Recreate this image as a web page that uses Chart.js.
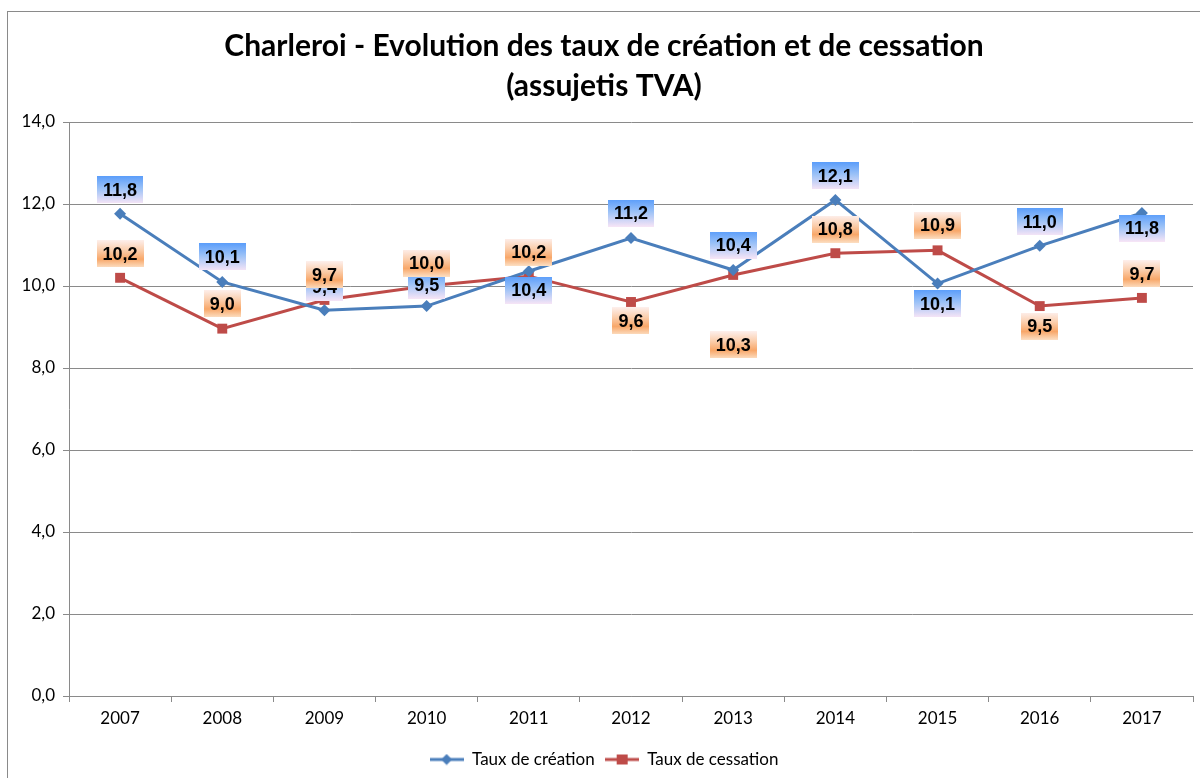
<!DOCTYPE html>
<html>
<head>
<meta charset="utf-8">
<script src="https://cdn.jsdelivr.net/npm/chart.js@4.4.1/dist/chart.umd.min.js"></script>
<style>
  html, body { margin: 0; padding: 0; background: #fff; }
  #wrap { width: 1200px; height: 778px; }
</style>
</head>
<body>
<div id="wrap"><canvas id="chart" width="1200" height="778"></canvas></div>
<script>
// Charleroi - taux de création / cessation (assujettis TVA)

const years = ["2007", "2008", "2009", "2010", "2011", "2012", "2013", "2014", "2015", "2016", "2017"];
const creation = [11.76, 10.1, 9.41, 9.51, 10.36, 11.17, 10.39, 12.1, 10.06, 10.98, 11.78];
const cessation = [10.2, 8.96, 9.66, 10.0, 10.24, 9.61, 10.27, 10.8, 10.87, 9.51, 9.71];
const yTicks = [0, 2, 4, 6, 8, 10, 12, 14];

// label placement (px offset from point, negative = above)
const creationLabelDy = [-24, -25, -23, -21, 19, -25, -25, -24, 20, -24, 15];
const cessationLabelDy = [-24, -25, -25, -23, -24, 19, 70, -24, -25, 20, -24];

const BLUE = "#4A7EBB";
const RED = "#BE4B48";

function fmt(v) {
  return v.toFixed(1).replace(".", ",");
}

// legend icon: line with marker
function legendIcon(color, shape) {
  const c = document.createElement("canvas");
  c.width = 34; c.height = 12;
  const g = c.getContext("2d");
  g.strokeStyle = color;
  g.lineWidth = 3;
  g.beginPath(); g.moveTo(0, 6); g.lineTo(34, 6); g.stroke();
  g.fillStyle = color;
  if (shape === "diamond") {
    g.beginPath(); g.moveTo(17, 0.5); g.lineTo(22.5, 6); g.lineTo(17, 11.5); g.lineTo(11.5, 6); g.closePath(); g.fill();
  } else {
    g.fillRect(12, 1, 11, 10);
  }
  return c;
}

const frame = {
  id: "frame",
  beforeDraw(chart) {
    const ctx = chart.ctx;
    ctx.save();
    ctx.fillStyle = "#fff";
    ctx.fillRect(0, 0, chart.width, chart.height);
    ctx.strokeStyle = "#8a8a8a";
    ctx.lineWidth = 1;
    ctx.strokeRect(7.5, 11.5, 1220, 800);
    ctx.restore();
  }
};

const dataLabels = {
  id: "dataLabels",
  afterDatasetsDraw(chart) {
    const ctx = chart.ctx;
    const offsets = [creationLabelDy, cessationLabelDy];
    ctx.save();
    ctx.font = "bold 18px 'Liberation Sans', Arial, sans-serif";
    ctx.textAlign = "center";
    ctx.textBaseline = "middle";
    chart.data.datasets.forEach((ds, di) => {
      const meta = chart.getDatasetMeta(di);
      meta.data.forEach((pt, i) => {
        const txt = fmt(ds.data[i]);
        const w = ctx.measureText(txt).width + 12;
        const h = 27;
        const cx = pt.x;
        const cy = pt.y + offsets[di][i];
        const top = cy - h / 2;
        const grad = ctx.createLinearGradient(0, top, 0, top + h);
        if (di === 0) {
          grad.addColorStop(0, "#5C9EFA");
          grad.addColorStop(0.45, "#9CC2F7");
          grad.addColorStop(1, "#F5E4F6");
        } else {
          grad.addColorStop(0, "#FDEEEA");
          grad.addColorStop(0.35, "#FBCFAE");
          grad.addColorStop(0.7, "#F8A769");
          grad.addColorStop(1, "#FCDDC0");
        }
        ctx.fillStyle = grad;
        ctx.fillRect(Math.round(cx - w / 2), Math.round(top), Math.round(w), h);
        ctx.fillStyle = "#000";
        ctx.fillText(txt, cx, cy + 1);
      });
    });
    ctx.restore();
  }
};

new Chart(document.getElementById("chart"), {
  type: "line",
  data: {
    labels: years,
    datasets: [
      {
        label: "Taux de création",
        data: creation,
        borderColor: BLUE,
        backgroundColor: BLUE,
        borderWidth: 3,
        pointStyle: "rectRot",
        pointRadius: 6,
        pointBorderWidth: 0,
        tension: 0,
      },
      {
        label: "Taux de cessation",
        data: cessation,
        borderColor: RED,
        backgroundColor: RED,
        borderWidth: 3,
        pointStyle: "rect",
        pointRadius: 7,
        pointBorderWidth: 0,
        tension: 0,
      },
    ],
  },
  options: {
    responsive: false,
    animation: false,
    layout: { padding: { left: 14, right: 6, top: 26, bottom: 0 } },
    plugins: {
      title: {
        display: true,
        text: ["Charleroi - Evolution des taux de création et de cessation", "(assujetis TVA)"],
        color: "#000",
        font: { family: "Lato", size: 30, weight: "bold", lineHeight: 1.35 },
        padding: { top: 0, bottom: 15 },
      },
      legend: {
        position: "bottom",
        labels: {
          usePointStyle: true,
          pointStyleWidth: 34,
          color: "#000",
          font: { family: "Lato", size: 17 },
          padding: 10,
          generateLabels: (chart) => [
            { text: "Taux de création", pointStyle: legendIcon(BLUE, "diamond"), datasetIndex: 0, fontColor: "#000", lineWidth: 0, strokeStyle: "transparent" },
            { text: "Taux de cessation", pointStyle: legendIcon(RED, "square"), datasetIndex: 1, fontColor: "#000", lineWidth: 0, strokeStyle: "transparent" },
          ],
        },
      },
      tooltip: { enabled: false },
    },
    scales: {
      x: {
        offset: true,
        afterFit: (scale) => { scale.height = 45; },
        grid: { offset: true, drawOnChartArea: false, drawTicks: true, tickLength: 6, color: "#8a8a8a" },
        border: { color: "#8a8a8a", width: 1 },
        ticks: { color: "#000", font: { family: "Lato", size: 17 }, padding: 6, maxRotation: 0 },
      },
      y: {
        min: 0,
        max: 14,
        afterBuildTicks: (scale) => { scale.ticks = yTicks.map(v => ({ value: v })); },
        afterFit: (scale) => { scale.width = 55; },
        grid: { color: "#8a8a8a", tickLength: 6, drawTicks: true },
        border: { color: "#8a8a8a", width: 1 },
        ticks: { color: "#000", font: { family: "Lato", size: 17 }, padding: 8, callback: (v) => fmt(v) },
      },
    },
  },
  plugins: [frame, dataLabels],
});
</script>
</body>
</html>
